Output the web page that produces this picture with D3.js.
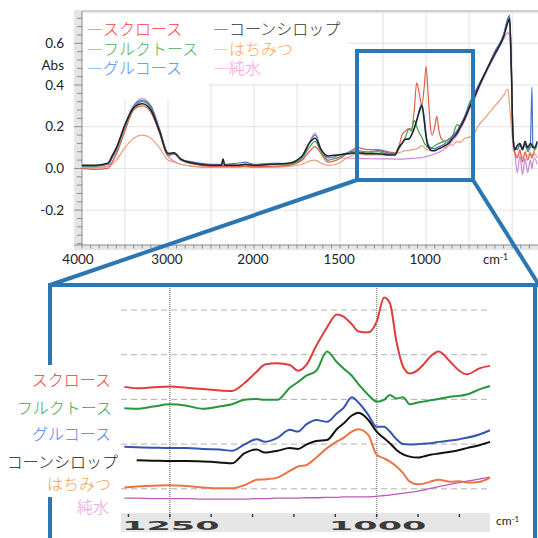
<!DOCTYPE html>
<html>
<head>
<meta charset="utf-8">
<script src="https://cdn.jsdelivr.net/npm/d3@7"></script>
<style>
  body { margin: 0; background: #fff; }
  svg { display: block; }
</style>
</head>
<body>
<svg id="chart" width="538" height="538"></svg>
<script>
// series names (legend + inset labels)
const names = ["スクロース", "フルクトース", "グルコース", "コーンシロップ", "はちみつ", "純水"];
const legendColors = ["#ff3d3d", "#4cb050", "#4d8ef5", "#333333", "#ffa64d", "#ff99dd"];
const topColors = ["#e0604a", "#3f9f4f", "#5272c8", "#222222", "#e9a07e", "#c88ad6"];
const insetColors = ["#e03c3c", "#28963a", "#3553b0", "#111111", "#ec7444", "#c058b8"];
const insetLabelColors = ["#ee3b3b", "#3ea34a", "#3f7ff0", "#222222", "#f5a050", "#f29ad8"];

const yTickLabels = [0.6, 0.4, 0.2, 0.0, -0.2];
const xTickLabels = [4000, 3000, 2000, 1500, 1000];
const insetTickLabels = [1250, 1000];

// ---- top spectrum (Abs vs cm-1) ----
const topWn = [4000, 3850, 3700, 3650, 3600, 3500, 3400, 3300, 3200, 3100,
  3000, 2930, 2850, 2700, 2500, 2380, 2360, 2340, 2200, 2100,
  2000, 1900, 1800, 1720, 1680, 1645, 1610, 1570, 1520, 1460,
  1400, 1340, 1280, 1220, 1180, 1160, 1140, 1120, 1100, 1085,
  1070, 1055, 1040, 1025, 1010, 1000, 990, 975, 965, 950,
  938, 925, 910, 890, 870, 850, 820, 800, 775, 750,
  725, 700, 650, 600, 550, 525, 515, 505, 495, 485,
  470, 455, 440, 425, 410, 395, 385, 380, 370, 355];

const topSucrose = [0, -0.005, 0, 0.03, 0.07, 0.18, 0.28, 0.30, 0.27, 0.17,
  0.06, 0.07, 0.04, 0.02, 0.01, 0.01, 0.01, 0.01, 0.01, 0.01,
  0.008, 0.01, 0.015, 0.04, 0.08, 0.105, 0.07, 0.03, 0.04, 0.07,
  0.10, 0.09, 0.09, 0.08, 0.075, 0.10, 0.16, 0.18, 0.19, 0.19,
  0.27, 0.41, 0.36, 0.30, 0.40, 0.49, 0.38, 0.20, 0.16, 0.20,
  0.25, 0.18, 0.14, 0.13, 0.14, 0.155, 0.18, 0.21, 0.25, 0.30,
  0.34, 0.39, 0.47, 0.56, 0.64, 0.71, 0.70, 0.48, 0.15, 0.08,
  0.05, 0.09, 0.03, 0.08, 0.04, 0.07, 0.05, 0.06, 0.09, 0.12];

const topFructose = [0.01, 0.01, 0.02, 0.05, 0.09, 0.20, 0.29, 0.32, 0.29, 0.18,
  0.07, 0.075, 0.04, 0.025, 0.015, 0.015, 0.015, 0.015, 0.015, 0.02,
  0.015, 0.02, 0.02, 0.05, 0.10, 0.13, 0.08, 0.04, 0.05, 0.07,
  0.08, 0.075, 0.08, 0.07, 0.07, 0.09, 0.12, 0.15, 0.19, 0.18,
  0.23, 0.20, 0.17, 0.15, 0.12, 0.11, 0.10, 0.10, 0.10, 0.11,
  0.115, 0.12, 0.125, 0.13, 0.14, 0.15, 0.21, 0.20, 0.25, 0.31,
  0.35, 0.39, 0.47, 0.56, 0.64, 0.71, 0.72, 0.50, 0.16, 0.10,
  0.09, 0.11, 0.09, 0.12, 0.08, 0.10, 0.12, 0.11, 0.09, 0.11];

const topGlucose = [0.012, 0.012, 0.02, 0.05, 0.09, 0.21, 0.30, 0.325, 0.30, 0.19,
  0.075, 0.07, 0.045, 0.03, 0.02, 0.02, 0.025, 0.02, 0.025, 0.03,
  0.02, 0.025, 0.025, 0.06, 0.12, 0.16, 0.09, 0.05, 0.06, 0.075,
  0.085, 0.08, 0.085, 0.075, 0.07, 0.10, 0.12, 0.14, 0.145, 0.16,
  0.19, 0.23, 0.28, 0.31, 0.24, 0.16, 0.12, 0.10, 0.095, 0.095,
  0.10, 0.105, 0.11, 0.12, 0.13, 0.15, 0.18, 0.21, 0.25, 0.30,
  0.35, 0.39, 0.47, 0.56, 0.64, 0.72, 0.735, 0.50, 0.16, 0.10,
  0.09, 0.12, 0.10, 0.11, 0.09, 0.11, 0.39, 0.11, 0.10, 0.12];

const topCornSyrup = [0.015, 0.015, 0.025, 0.06, 0.10, 0.21, 0.29, 0.31, 0.28, 0.18,
  0.07, 0.075, 0.045, 0.025, 0.015, 0.015, 0.045, 0.015, 0.015, 0.02,
  0.015, 0.02, 0.025, 0.06, 0.12, 0.145, 0.09, 0.06, 0.065, 0.07,
  0.075, 0.07, 0.07, 0.065, 0.065, 0.10, 0.12, 0.14, 0.14, 0.16,
  0.19, 0.23, 0.27, 0.30, 0.22, 0.15, 0.11, 0.09, 0.085, 0.085,
  0.09, 0.095, 0.10, 0.11, 0.12, 0.14, 0.17, 0.20, 0.24, 0.29,
  0.33, 0.38, 0.47, 0.55, 0.63, 0.70, 0.72, 0.48, 0.15, 0.09,
  0.11, 0.12, 0.09, 0.13, 0.10, 0.12, 0.11, 0.10, 0.10, 0.13];

const topHoney = [0.005, 0, 0.01, 0.02, 0.04, 0.10, 0.145, 0.16, 0.145, 0.10,
  0.04, 0.03, 0.02, 0.01, 0.005, 0.005, 0.005, 0.005, 0.005, 0.008,
  0.005, 0.005, 0.01, 0.02, 0.035, 0.04, 0.025, 0.015, 0.02, 0.05,
  0.07, 0.065, 0.065, 0.065, 0.07, 0.075, 0.08, 0.085, 0.085, 0.09,
  0.09, 0.095, 0.10, 0.11, 0.10, 0.09, 0.09, 0.085, 0.085, 0.09,
  0.10, 0.10, 0.11, 0.10, 0.12, 0.11, 0.13, 0.125, 0.145, 0.15,
  0.16, 0.20, 0.25, 0.30, 0.35, 0.38, 0.30, 0.20, 0.12, 0.08,
  0.06, 0.08, 0.05, 0.07, 0.06, 0.08, 0.06, 0.07, 0.07, 0.05];

const topWater = [0.005, 0.005, 0.01, 0.03, 0.07, 0.19, 0.30, 0.335, 0.30, 0.19,
  0.06, 0.035, 0.02, 0.01, 0.005, 0.005, 0.005, 0.005, 0.01, 0.015,
  0.01, 0.01, 0.015, 0.04, 0.12, 0.17, 0.09, 0.055, 0.05, 0.05,
  0.048, 0.047, 0.046, 0.046, 0.045, 0.045, 0.045, 0.046, 0.047, 0.048,
  0.049, 0.05, 0.051, 0.053, 0.055, 0.057, 0.059, 0.062, 0.065, 0.07,
  0.074, 0.078, 0.085, 0.095, 0.11, 0.13, 0.16, 0.19, 0.23, 0.28,
  0.32, 0.37, 0.46, 0.54, 0.62, 0.65, 0.64, 0.45, 0.10, 0.07,
  -0.02, 0.06, -0.03, 0.05, -0.02, 0.04, 0, 0.03, 0.05, 0.02];

// ---- inset (offset spectra, arbitrary units) ----
const insetWn = [1305, 1290, 1270, 1250, 1230, 1210, 1190, 1175, 1160, 1145,
  1135, 1120, 1105, 1095, 1085, 1073, 1060, 1048, 1040, 1030,
  1022, 1010, 1000, 991, 984, 976, 968, 960, 950, 944,
  935, 925, 911, 900, 891, 875, 863];

const inSucrose = [3.28, 3.25, 3.27, 3.29, 3.26, 3.23, 3.20, 3.19, 3.36, 3.62,
  3.78, 3.81, 3.77, 3.64, 3.77, 4.20, 4.61, 4.90, 4.85, 4.68,
  4.52, 4.50, 4.74, 5.28, 5.15, 4.29, 3.73, 3.58, 3.66, 3.77,
  3.96, 4.07, 3.84, 3.64, 3.56, 3.70, 3.75];
const inFructose = [2.80, 2.79, 2.84, 2.89, 2.86, 2.79, 2.84, 2.89, 2.99, 3.01,
  2.99, 2.99, 3.26, 3.39, 3.53, 3.64, 4.07, 3.83, 3.69, 3.53,
  3.34, 3.10, 2.95, 2.99, 3.10, 3.02, 3.05, 2.89, 2.93, 2.95,
  2.98, 3.01, 3.06, 3.08, 3.11, 3.23, 3.30];
const inGlucose = [1.94, 1.93, 1.92, 1.91, 1.91, 1.89, 1.88, 1.85, 1.99, 2.11,
  2.05, 2.14, 2.32, 2.28, 2.44, 2.54, 2.50, 2.69, 2.81, 3.05,
  2.93, 2.65, 2.39, 2.39, 2.28, 2.11, 2.00, 1.99, 2.00, 2.01,
  2.02, 2.05, 2.08, 2.11, 2.14, 2.22, 2.31];
const inCornSyrup = [1.64, 1.64, 1.63, 1.62, 1.62, 1.61, 1.59, 1.57, 1.79, 1.88,
  1.81, 1.85, 1.91, 1.89, 1.99, 2.07, 2.09, 2.34, 2.46, 2.64,
  2.70, 2.54, 2.28, 2.13, 2.02, 1.87, 1.77, 1.72, 1.70, 1.72,
  1.76, 1.79, 1.83, 1.87, 1.91, 1.98, 2.05];
const inHoney = [1.03, 1.05, 1.07, 1.08, 1.06, 1.03, 1.01, 1.01, 1.08, 1.20,
  1.21, 1.25, 1.40, 1.50, 1.53, 1.70, 1.91, 2.06, 2.14, 2.28,
  2.33, 2.20, 1.76, 1.68, 1.61, 1.50, 1.35, 1.16, 1.10, 1.11,
  1.16, 1.20, 1.16, 1.17, 1.14, 1.16, 1.25];
const inWater = [0.79, 0.79, 0.78, 0.78, 0.78, 0.77, 0.77, 0.77, 0.77, 0.78,
  0.78, 0.79, 0.79, 0.79, 0.80, 0.80, 0.81, 0.81, 0.82, 0.82,
  0.82, 0.82, 0.83, 0.85, 0.86, 0.88, 0.90, 0.92, 0.95, 0.97,
  1.01, 1.05, 1.10, 1.14, 1.17, 1.22, 1.26];

const topSeries = [topSucrose, topFructose, topGlucose, topCornSyrup, topHoney, topWater];
const inSeries = [inSucrose, inFructose, inGlucose, inCornSyrup, inHoney, inWater];

const svg = d3.select("#chart");
const blue = "#2b77b3";
const axisFont = "Lato, 'Open Sans', sans-serif";
const jpFont = "'Noto Sans CJK JP', sans-serif";

// ===== top chart =====
// x axis is compressed above 2000 cm-1 (instrument style)
const x = d3.scaleLinear().domain([4000, 2000, 350]).range([82, 254, 538]);
const y = d3.scaleLinear().domain([-0.367, 0.75]).range([245, 12]);

const topG = svg.append("g");

// grid
const gridX = [3500, 3000, 2500, 2000, 1750, 1500, 1250, 1000, 750, 500];
topG.selectAll(".gx").data(gridX).enter().append("line")
  .attr("x1", d => x(d)).attr("x2", d => x(d))
  .attr("y1", 12).attr("y2", 245)
  .attr("stroke", "#e2e2e2").attr("stroke-width", 1);
topG.selectAll(".gy").data(yTickLabels).enter().append("line")
  .attr("x1", 82).attr("x2", 538)
  .attr("y1", d => y(d)).attr("y2", d => y(d))
  .attr("stroke", "#e2e2e2").attr("stroke-width", 1);

// white legend backdrop
topG.append("rect").attr("x", 83).attr("y", 13).attr("width", 264).attr("height", 70).attr("fill", "#fff");
topG.append("rect").attr("x", 83).attr("y", 13).attr("width", 126).attr("height", 86).attr("fill", "#fff");

// axis bands
topG.append("rect").attr("x", 74).attr("y", 10).attr("width", 464).attr("height", 2.5).attr("fill", "#cfcfcf");
topG.append("rect").attr("x", 74).attr("y", 10).attr("width", 8).attr("height", 236).attr("fill", "#e6e6e6");
topG.append("rect").attr("x", 74).attr("y", 245).attr("width", 464).attr("height", 5).attr("fill", "#e6e6e6");
topG.append("line").attr("x1", 82).attr("x2", 82).attr("y1", 11).attr("y2", 245).attr("stroke", "#8a8a8a");
topG.append("line").attr("x1", 74).attr("x2", 538).attr("y1", 245).attr("y2", 245).attr("stroke", "#8a8a8a");

// y ticks every 0.04
const yMinor = d3.range(-0.36, 0.75, 0.04);
topG.selectAll(".yt").data(yMinor).enter().append("line")
  .attr("x1", 82).attr("x2", d => Math.abs(Math.round(d * 100) % 20) === 0 ? 74 : 77)
  .attr("y1", d => y(d)).attr("y2", d => y(d))
  .attr("stroke", "#777").attr("stroke-width", 0.8);

// x ticks: every 100 above 2000, every 50 below
const xMinor = d3.range(4000, 2000, -100).concat(d3.range(2000, 350, -50));
topG.selectAll(".xt").data(xMinor).enter().append("line")
  .attr("x1", d => x(d)).attr("x2", d => x(d))
  .attr("y1", 245).attr("y2", 248.5)
  .attr("stroke", "#777").attr("stroke-width", 0.8);

// tick labels
topG.selectAll(".yl").data(yTickLabels).enter().append("text")
  .attr("x", 64).attr("y", d => y(d))
  .attr("dy", "0.35em").attr("text-anchor", "end")
  .attr("font-family", axisFont).attr("font-size", 13.5).attr("fill", "#222")
  .text(d => d.toFixed(1));
topG.append("text").attr("x", 64).attr("y", 65).attr("dy", "0.35em")
  .attr("text-anchor", "end").attr("font-family", axisFont).attr("font-size", 13.5)
  .attr("fill", "#222").text("Abs");
topG.selectAll(".xl").data(xTickLabels).enter().append("text")
  .attr("x", d => x(d) - (d === 4000 ? 4 : 1)).attr("y", 259)
  .attr("dy", "0.35em").attr("text-anchor", "middle")
  .attr("font-family", axisFont).attr("font-size", 13.5).attr("fill", "#222")
  .text(d => d);
const cm = topG.append("text").attr("x", 483).attr("y", 259).attr("dy", "0.35em")
  .attr("font-family", axisFont).attr("font-size", 13).attr("fill", "#222");
cm.append("tspan").text("cm");
cm.append("tspan").attr("dy", "-0.45em").attr("font-size", 8.5).text("-1");

// spectra
const line = d3.line()
  .x(d => x(d[0])).y(d => y(d[1]))
  .curve(d3.curveMonotoneX);
const drawOrder = [5, 4, 0, 1, 2, 3];
topG.selectAll(".spec").data(drawOrder).enter().append("path")
  .attr("d", i => line(topWn.map((w, k) => [w, topSeries[i][k]])))
  .attr("fill", "none")
  .attr("stroke", i => topColors[i])
  .attr("stroke-width", i => i === 3 ? 1.5 : 1.2);

// legend
const legendPos = [[87, 29], [87, 49], [87, 68], [213, 29], [213, 49], [213, 68]];
topG.selectAll(".lg").data(names).enter().append("text")
  .attr("x", (d, i) => legendPos[i][0]).attr("y", (d, i) => legendPos[i][1])
  .attr("dy", "0.36em")
  .attr("font-family", jpFont).attr("font-weight", 300).attr("font-size", 16)
  .attr("fill", (d, i) => legendColors[i])
  .text(d => "―" + d);

// zoom box + connectors
topG.append("rect").attr("x", 357).attr("y", 51).attr("width", 116).attr("height", 129)
  .attr("fill", "none").attr("stroke", blue).attr("stroke-width", 4);
topG.append("line").attr("x1", 357).attr("y1", 180).attr("x2", 50).attr("y2", 285)
  .attr("stroke", blue).attr("stroke-width", 4);
topG.append("line").attr("x1", 473).attr("y1", 180).attr("x2", 539).attr("y2", 285)
  .attr("stroke", blue).attr("stroke-width", 4);

// ===== inset =====
const xi = d3.scaleLinear().domain([1309, 863]).range([121, 490]);
const yi = d3.scaleLinear().domain([0, 5]).range([533.5, 310]);
const inset = svg.append("g");

// frame
inset.append("line").attr("x1", 48).attr("x2", 538).attr("y1", 285).attr("y2", 285)
  .attr("stroke", blue).attr("stroke-width", 4);
inset.append("line").attr("x1", 50).attr("x2", 50).attr("y1", 283).attr("y2", 365)
  .attr("stroke", blue).attr("stroke-width", 4);
inset.append("line").attr("x1", 50).attr("x2", 50).attr("y1", 497).attr("y2", 538)
  .attr("stroke", blue).attr("stroke-width", 4);
inset.append("line").attr("x1", 535).attr("x2", 535).attr("y1", 283).attr("y2", 538)
  .attr("stroke", blue).attr("stroke-width", 4);

// dashed guide lines
inset.selectAll(".dg").data([1, 2, 3, 4, 5]).enter().append("line")
  .attr("x1", 121).attr("x2", 490)
  .attr("y1", d => yi(d)).attr("y2", d => yi(d))
  .attr("stroke", "#b0b0b0").attr("stroke-width", 1).attr("stroke-dasharray", "6,4");

// axis band
inset.append("rect").attr("x", 121).attr("y", 513).attr("width", 369).attr("height", 19).attr("fill", "#e6e6e6");
inset.selectAll(".vg").data(insetTickLabels).enter().append("line")
  .attr("x1", d => xi(d)).attr("x2", d => xi(d))
  .attr("y1", 288).attr("y2", 519)
  .attr("stroke", "#8c8c8c").attr("stroke-width", 1.5).attr("stroke-dasharray", "1,1");
inset.selectAll(".it").data(d3.range(1300, 899, -50)).enter().append("line")
  .attr("x1", d => xi(d)).attr("x2", d => xi(d))
  .attr("y1", 514).attr("y2", 517)
  .attr("stroke", "#333").attr("stroke-width", 1.4);
inset.selectAll(".il").data(insetTickLabels).enter().append("text")
  .attr("transform", d => `translate(${xi(d) + 1},530) scale(2.7,1)`)
  .attr("text-anchor", "middle")
  .attr("font-family", "'DejaVu Sans', sans-serif").attr("font-weight", "bold")
  .attr("font-size", 13).attr("fill", "#3a3a3a")
  .text(d => d);
const cm2 = inset.append("text").attr("x", 496).attr("y", 521).attr("dy", "0.35em")
  .attr("font-family", axisFont).attr("font-size", 12).attr("fill", "#222");
cm2.append("tspan").text("cm");
cm2.append("tspan").attr("dy", "-0.45em").attr("font-size", 8).text("-1");

// inset spectra (corn syrup trace starts a little later)
const lineIn = d3.line()
  .x(d => xi(d[0])).y(d => yi(d[1]))
  .curve(d3.curveMonotoneX);
inset.selectAll(".ins").data([5, 4, 3, 2, 1, 0]).enter().append("path")
  .attr("d", i => lineIn(insetWn.map((w, k) => [w, inSeries[i][k]]).filter(p => i !== 3 || p[0] <= 1300)))
  .attr("fill", "none")
  .attr("stroke", i => insetColors[i])
  .attr("stroke-width", i => i === 5 ? 1.3 : 2);

// inset labels
const labelY = [380, 408, 434, 462, 484, 507];
const labelX = [111, 112, 111, 118, 111, 109];
inset.selectAll(".ilb").data(names).enter().append("text")
  .attr("x", (d, i) => labelX[i]).attr("y", (d, i) => labelY[i])
  .attr("dy", "0.36em").attr("text-anchor", "end")
  .attr("font-family", jpFont).attr("font-weight", 300).attr("font-size", 16)
  .attr("fill", (d, i) => insetLabelColors[i])
  .text(d => d);
</script>
</body>
</html>
